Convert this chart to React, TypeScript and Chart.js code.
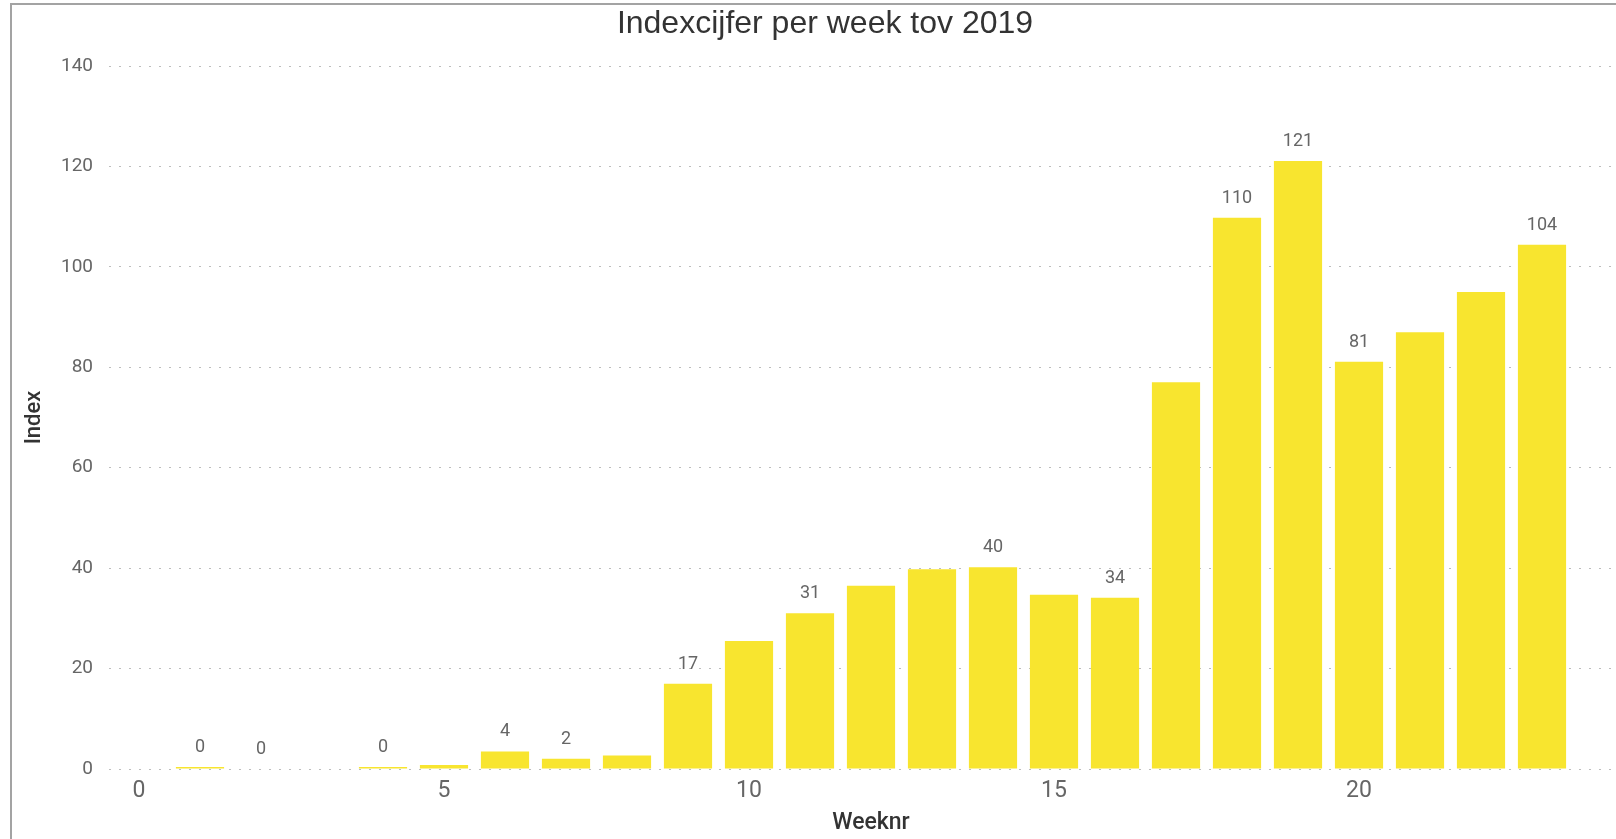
import React, { useEffect, useRef } from "react";
import { Chart, registerables } from "chart.js";

Chart.register(...registerables);

// ---- data ----
const chartTitle = "Indexcijfer per week tov 2019";
const xAxisTitle = "Weeknr";
const yAxisTitle = "Index";

const weeks = [1, 2, 3, 4, 5, 6, 7, 8, 9, 10, 11, 12, 13, 14, 15, 16, 17, 18, 19, 20, 21, 22, 23];
const indexValues: (number | null)[] = [
  0.4, 0, null, 0.4, 0.8, 3.5, 2.05, 2.7, 17.0, 25.5, 31.0, 36.5, 39.8, 40.2, 34.7, 34.1, 77.0,
  109.8, 121.1, 81.1, 87.0, 95.0, 104.4,
];
const labeledWeeks = [1, 2, 4, 6, 7, 9, 11, 14, 16, 18, 19, 20, 23];
const xTickValues = [0, 5, 10, 15, 20];
const yTickValues = [0, 20, 40, 60, 80, 100, 120, 140];
const xMin = -0.5;
const xMax = 24.5;

const barColor = "#F8E52F";

const dataLabelPlugin = {
  id: "dataLabels",
  afterDatasetsDraw(chart: any) {
    const meta = chart.getDatasetMeta(0);
    const ctx = chart.ctx;
    ctx.save();
    ctx.font = "18px Roboto";
    ctx.fillStyle = "#666666";
    ctx.textAlign = "center";
    ctx.textBaseline = "alphabetic";
    meta.data.forEach((bar: any, i: number) => {
      const v = indexValues[i];
      if (v === null || !labeledWeeks.includes(weeks[i])) return;
      ctx.fillText(String(Math.round(v)), bar.x, bar.y - 15);
    });
    ctx.restore();
  },
};

export default function App() {
  const canvasRef = useRef<HTMLCanvasElement | null>(null);

  useEffect(() => {
    if (!canvasRef.current) return;
    const chart = new Chart(canvasRef.current, {
      type: "bar",
      data: {
        datasets: [
          {
            data: weeks.map((w, i) => ({ x: w, y: indexValues[i] })) as any,
            backgroundColor: barColor,
            borderWidth: 0,
            barPercentage: 0.79,
            categoryPercentage: 1,
          },
        ],
      },
      plugins: [dataLabelPlugin],
      options: {
        responsive: false,
        animation: false,
        devicePixelRatio: 1,
        layout: { padding: { left: 4.5, right: 8.5, top: 0, bottom: 0 } },
        plugins: {
          legend: { display: false },
          tooltip: { enabled: false },
          title: {
            display: true,
            text: chartTitle,
            color: "#333333",
            font: { family: "'Liberation Sans', Arial, sans-serif", size: 32, weight: "normal", lineHeight: 1 },
            padding: { top: 3, bottom: 26 },
          },
        },
        scales: {
          x: {
            type: "linear",
            min: xMin,
            max: xMax,
            offset: false,
            grid: { display: false, drawTicks: false },
            border: { display: false },
            afterBuildTicks: (scale: any) => {
              scale.ticks = xTickValues.map((v) => ({ value: v }));
            },
            afterFit: (scale: any) => {
              scale.height = 70;
            },
            ticks: {
              color: "#666666",
              padding: 8,
              font: { family: "Roboto", size: 23 },
              maxRotation: 0,
            },
            title: {
              display: true,
              text: xAxisTitle,
              color: "#333333",
              font: { family: "Roboto", size: 23, weight: "500" },
              padding: { top: 0, bottom: 2 },
            },
          },
          y: {
            type: "linear",
            min: 0,
            max: 140,
            grid: {
              color: "#bdbdbd",
              lineWidth: 1,
              drawTicks: false,
            },
            border: { display: false, dash: [2, 8] },
            afterBuildTicks: (scale: any) => {
              scale.ticks = yTickValues.map((v) => ({ value: v }));
            },
            afterFit: (scale: any) => {
              scale.width = 92;
            },
            ticks: {
              color: "#666666",
              padding: 15.5,
              font: { family: "Roboto", size: 19 },
            },
            title: {
              display: true,
              text: yAxisTitle,
              color: "#333333",
              font: { family: "Roboto", size: 22, weight: "500" },
              padding: { top: 5, bottom: 0 },
            },
          },
        },
      },
    });
    return () => chart.destroy();
  }, []);

  return (
    <div
      style={{
        position: "fixed",
        left: 0,
        top: 0,
        width: 1616,
        height: 839,
        overflow: "hidden",
        background: "#ffffff",
      }}
    >
      <div
        style={{
          position: "absolute",
          left: 10,
          top: 3,
          width: 1700,
          height: 900,
          borderLeft: "2px solid #a3a3a3",
          borderTop: "2px solid #a3a3a3",
        }}
      >
        <canvas
          ref={canvasRef}
          width={1630}
          height={834}
          style={{ position: "absolute", left: 0, top: 0, width: 1630, height: 834 }}
        />
      </div>
    </div>
  );
}
